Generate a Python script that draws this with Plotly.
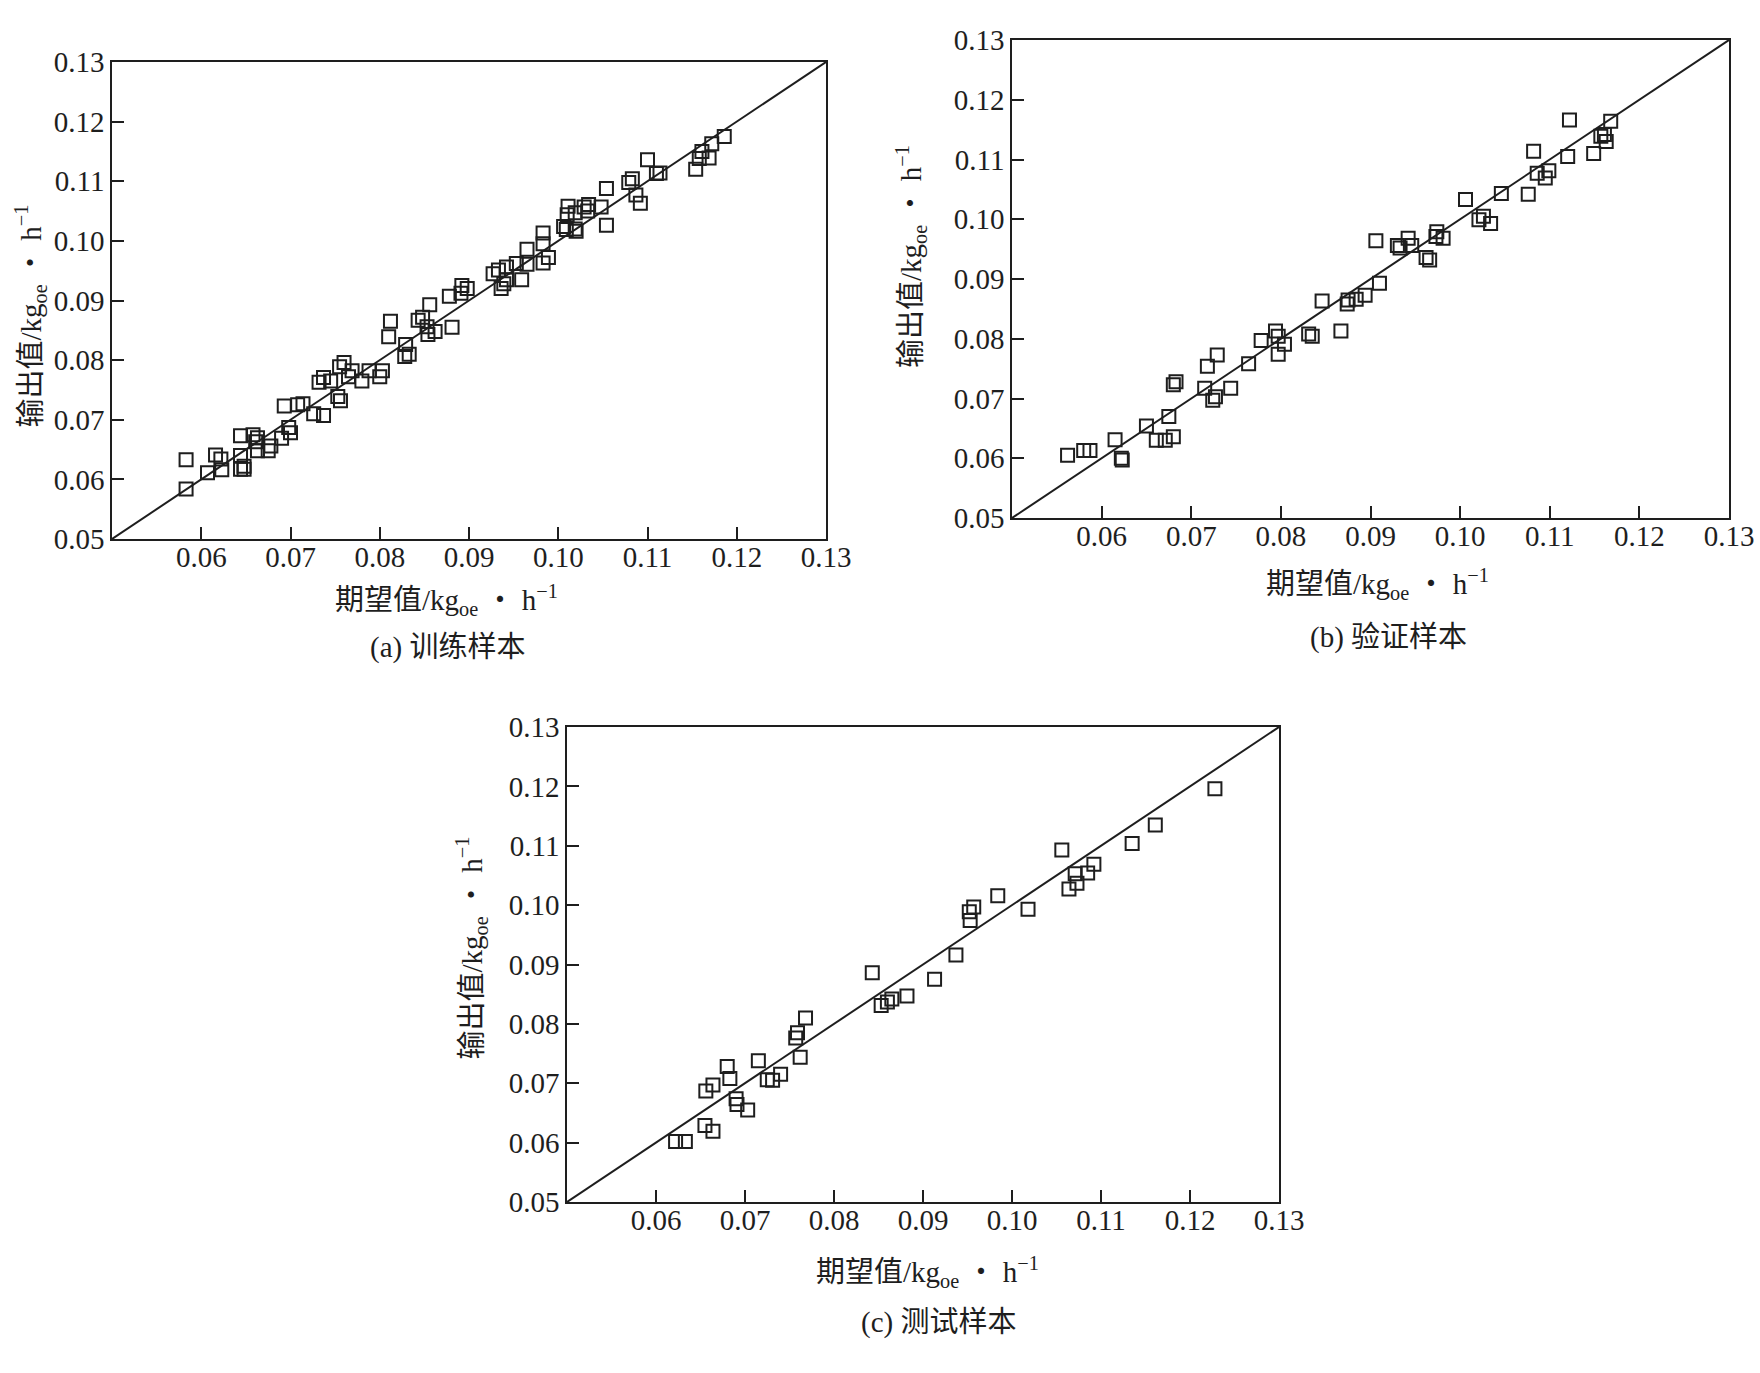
import plotly.graph_objects as go

# ---------------- data ----------------
train_expected = [
    0.0583, 0.0583, 0.0607, 0.0616, 0.0622, 0.0623, 0.0644, 0.0644, 0.0644, 0.0648,
    0.0648, 0.0658, 0.0663, 0.0661, 0.0663, 0.0675, 0.0678, 0.0690, 0.0698, 0.0700,
    0.0693, 0.0708, 0.0714, 0.0726, 0.0737, 0.0732, 0.0737, 0.0745, 0.0753, 0.0756,
    0.0755, 0.0760, 0.0765, 0.0769, 0.0780, 0.0788, 0.0800, 0.0803, 0.0810, 0.0812,
    0.0828, 0.0833, 0.0829, 0.0843, 0.0848, 0.0853, 0.0854, 0.0862, 0.0881, 0.0856,
    0.0878, 0.0891, 0.0892, 0.0898, 0.0927, 0.0933, 0.0942, 0.0942, 0.0936, 0.0939,
    0.0953, 0.0965, 0.0959, 0.0965, 0.0983, 0.0989, 0.0983, 0.0983, 0.1006, 0.1009,
    0.1010, 0.1011, 0.1019, 0.1020, 0.1019, 0.1029, 0.1034, 0.1033, 0.1048, 0.1054,
    0.1054, 0.1079, 0.1083, 0.1087, 0.1092, 0.1100, 0.1110, 0.1114, 0.1154, 0.1158,
    0.1169, 0.1161, 0.1172, 0.1186,
]
train_output = [
    0.0633, 0.0584, 0.0611, 0.0641, 0.0634, 0.0616, 0.0673, 0.0640, 0.0617, 0.0622,
    0.0617, 0.0675, 0.0670, 0.0663, 0.0648, 0.0648, 0.0656, 0.0669, 0.0687, 0.0678,
    0.0723, 0.0725, 0.0727, 0.0710, 0.0707, 0.0763, 0.0771, 0.0765, 0.0739, 0.0732,
    0.0789, 0.0796, 0.0772, 0.0782, 0.0765, 0.0782, 0.0772, 0.0782, 0.0839, 0.0865,
    0.0806, 0.0810, 0.0826, 0.0867, 0.0872, 0.0856, 0.0843, 0.0848, 0.0855, 0.0893,
    0.0907, 0.0912, 0.0925, 0.0920, 0.0945, 0.0951, 0.0956, 0.0935, 0.0920, 0.0928,
    0.0962, 0.0961, 0.0935, 0.0986, 0.0963, 0.0972, 0.0995, 0.1013, 0.1024, 0.1019,
    0.1044, 0.1058, 0.1047, 0.1016, 0.1020, 0.1057, 0.1061, 0.1050, 0.1057, 0.1026,
    0.1088, 0.1098, 0.1104, 0.1077, 0.1063, 0.1136, 0.1113, 0.1114, 0.1120, 0.1138,
    0.1139, 0.1150, 0.1163, 0.1175,
]

val_expected = [
    0.0562, 0.0580, 0.0587, 0.0615, 0.0622, 0.0623, 0.0650, 0.0661, 0.0671, 0.0680,
    0.0675, 0.0680, 0.0683, 0.0715, 0.0724, 0.0727, 0.0718, 0.0729, 0.0744, 0.0764,
    0.0778, 0.0794, 0.0797, 0.0797, 0.0804, 0.0831, 0.0835, 0.0867, 0.0846, 0.0874,
    0.0875, 0.0884, 0.0894, 0.0910,
    0.0906, 0.0930, 0.0933, 0.0942, 0.0946, 0.0962, 0.0966, 0.0973, 0.0974, 0.0981,
    0.1006, 0.1021, 0.1026, 0.1034, 0.1046, 0.1076, 0.1082, 0.1086, 0.1099, 0.1095,
    0.1120, 0.1122, 0.1149, 0.1157, 0.1161, 0.1163, 0.1168,
]
val_output = [
    0.0605, 0.0613, 0.0613, 0.0631, 0.0600, 0.0597, 0.0654, 0.0630, 0.0630, 0.0636,
    0.0670, 0.0723, 0.0728, 0.0717, 0.0697, 0.0703, 0.0754, 0.0773, 0.0717, 0.0758,
    0.0797, 0.0813, 0.0804, 0.0774, 0.0791, 0.0808, 0.0804, 0.0813, 0.0863, 0.0858,
    0.0865, 0.0866, 0.0873, 0.0893,
    0.0964, 0.0956, 0.0952, 0.0968, 0.0956, 0.0936, 0.0932, 0.0971, 0.0979, 0.0968,
    0.1033, 0.0999, 0.1005, 0.0993, 0.1043, 0.1042, 0.1114, 0.1077, 0.1081, 0.1069,
    0.1105, 0.1166, 0.1110, 0.1139, 0.1142, 0.1130, 0.1164,
]

test_expected = [
    0.0622, 0.0633, 0.0655, 0.0664, 0.0656, 0.0664, 0.0680, 0.0683, 0.0690, 0.0691,
    0.0703, 0.0715, 0.0725, 0.0731, 0.0740, 0.0759, 0.0757, 0.0762, 0.0768, 0.0843,
    0.0853, 0.0860, 0.0865, 0.0882, 0.0913, 0.0937, 0.0953, 0.0952, 0.0957, 0.0984,
    0.1018, 0.1056, 0.1064, 0.1073, 0.1071, 0.1085, 0.1092, 0.1135, 0.1161, 0.1228,
]
test_output = [
    0.0602, 0.0602, 0.0629, 0.0619, 0.0687, 0.0697, 0.0728, 0.0708, 0.0674, 0.0664,
    0.0655, 0.0738, 0.0706, 0.0705, 0.0715, 0.0785, 0.0776, 0.0744, 0.0810, 0.0886,
    0.0831, 0.0837, 0.0842, 0.0847, 0.0875, 0.0916, 0.0974, 0.0989, 0.0997, 0.1016,
    0.0993, 0.1093, 0.1027, 0.1037, 0.1053, 0.1054, 0.1069, 0.1104, 0.1135, 0.1196,
]

axis_range = [0.05, 0.13]
x_tickvals = [0.06, 0.07, 0.08, 0.09, 0.10, 0.11, 0.12, 0.13]
x_ticktext = ["0.06", "0.07", "0.08", "0.09", "0.10", "0.11", "0.12", "0.13"]
y_tickvals = [0.05, 0.06, 0.07, 0.08, 0.09, 0.10, 0.11, 0.12, 0.13]
y_ticktext = ["0.05", "0.06", "0.07", "0.08", "0.09", "0.10", "0.11", "0.12", "0.13"]

captions = ["(a) 训练样本", "(b) 验证样本", "(c) 测试样本"]
x_title = "期望值/kg<sub>oe</sub> ・ h<sup>−1</sup>"
y_title = "输出值/kg<sub>oe</sub> ・ h<sup>−1</sup>"

# ---------------- layout geometry ----------------
W, H = 1760, 1373
# pixel boxes of plot areas: (left, right, top, bottom)
boxes = [(112, 826, 62, 539), (1012, 1729, 40, 518), (567, 1279, 727, 1202)]
xtitle_pos = [(446, 61), (1377, 66), (927, 70)]     # (centre x, dy below axis)
caption_pos = [(448, 108), (1388, 119), (938, 120)]
ytitle_pos = [(-81, 16), (-101, -22), (-96, -16)]   # (dx from left, dy from centre)

FONT = "Liberation Serif, 'Times New Roman', 'Noto Sans CJK SC', serif"
INK = "#1e1e1e"

fig = go.Figure()
datasets = [(train_expected, train_output), (val_expected, val_output),
            (test_expected, test_output)]

for i, (xs, ys) in enumerate(datasets):
    suf = "" if i == 0 else str(i + 1)
    fig.add_trace(go.Scatter(
        x=axis_range, y=axis_range, mode="lines",
        line=dict(color=INK, width=2), xaxis="x" + suf, yaxis="y" + suf,
        showlegend=False, hoverinfo="skip"))
    fig.add_trace(go.Scatter(
        x=xs, y=ys, mode="markers",
        marker=dict(symbol="square-open", size=13, color=INK,
                    line=dict(color=INK, width=2)),
        xaxis="x" + suf, yaxis="y" + suf, showlegend=False))

layout = dict(template="none", width=W, height=H,
              paper_bgcolor="white", plot_bgcolor="white",
              margin=dict(l=0, r=0, t=0, b=0, pad=0, autoexpand=False),
              font=dict(family=FONT, size=29, color=INK))

annotations = []
for i, (l, r, t, b) in enumerate(boxes):
    suf = "" if i == 0 else str(i + 1)
    xd = [l / W, r / W]
    yd = [1 - b / H, 1 - t / H]
    common = dict(range=axis_range, showline=True, linecolor=INK, linewidth=1.6,
                  mirror=True, ticks="inside", ticklen=12, tickwidth=1.6,
                  tickcolor=INK, showgrid=False, zeroline=False, automargin=False,
                  tickfont=dict(family=FONT, size=29, color=INK))
    layout["xaxis" + suf] = dict(common, domain=xd, anchor="y" + suf,
                                 tickvals=x_tickvals, ticktext=x_ticktext,
                                 ticklabelstandoff=-9)
    layout["yaxis" + suf] = dict(common, domain=yd, anchor="x" + suf,
                                 tickvals=y_tickvals, ticktext=y_ticktext)
    xt_x, xt_dy = xtitle_pos[i]
    cp_x, cp_dy = caption_pos[i]
    yt_dx, yt_dy = ytitle_pos[i]
    annotations.append(dict(text=x_title, x=xt_x / W, y=1 - (b + xt_dy) / H,
                            xref="paper", yref="paper", showarrow=False,
                            xanchor="center", yanchor="middle",
                            font=dict(family=FONT, size=29, color=INK)))
    annotations.append(dict(text=captions[i], x=cp_x / W, y=1 - (b + cp_dy) / H,
                            xref="paper", yref="paper", showarrow=False,
                            xanchor="center", yanchor="middle",
                            font=dict(family=FONT, size=29, color=INK)))
    annotations.append(dict(text=y_title, x=(l + yt_dx) / W,
                            y=1 - ((t + b) / 2 + yt_dy) / H,
                            xref="paper", yref="paper", showarrow=False,
                            textangle=-90, xanchor="center", yanchor="middle",
                            font=dict(family=FONT, size=29, color=INK)))

layout["annotations"] = annotations
fig.update_layout(**layout)
fig.write_html("out.html",
               config={"displayModeBar": False},
               post_script="document.body.style.margin='0';"
                           "document.body.style.overflow='hidden';")
